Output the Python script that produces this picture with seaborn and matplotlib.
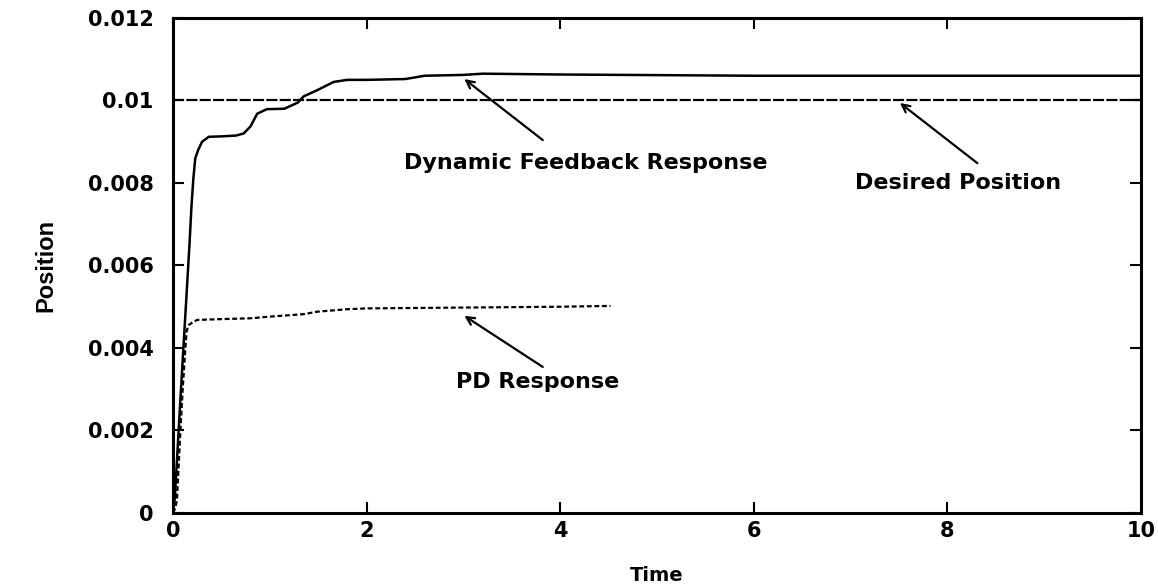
import matplotlib
matplotlib.use("Agg")
import matplotlib.pyplot as plt
import seaborn as sns
import pandas as pd

# Dynamic feedback controller response
dyn_time = [0.0, 0.02, 0.07, 0.14, 0.17, 0.19, 0.21, 0.23, 0.26, 0.30, 0.37, 0.50,
            0.65, 0.73, 0.80, 0.87, 0.97, 1.15, 1.29, 1.35, 1.49, 1.66, 1.80, 2.00,
            2.40, 2.60, 3.00, 3.20, 4.00, 6.00, 8.00, 10.00]
dyn_pos = [0.0, 0.0004, 0.0025, 0.0053, 0.0065, 0.0074, 0.0081, 0.0086, 0.0088, 0.0090,
           0.00912, 0.00913, 0.00915, 0.0092, 0.00937, 0.00968, 0.00979, 0.0098, 0.00995,
           0.0101, 0.01025, 0.01045, 0.0105, 0.0105, 0.01052, 0.0106, 0.01062, 0.01065,
           0.01063, 0.0106, 0.0106, 0.0106]

# PD controller response
pd_time = [0.0, 0.02, 0.04, 0.07, 0.10, 0.125, 0.14, 0.16, 0.20, 0.25, 0.50, 0.80,
           1.00, 1.35, 1.49, 1.80, 2.01, 3.00, 4.00, 4.52]
pd_pos = [0.0, 0.0001, 0.0003, 0.0017, 0.0030, 0.0039, 0.0044, 0.00455, 0.00462, 0.00468,
          0.0047, 0.00472, 0.00476, 0.00482, 0.00488, 0.00494, 0.00496, 0.00498, 0.0050,
          0.00502]

# Set point
desired_time = [0.0, 10.0]
desired_pos = [0.01, 0.01]

x_ticks = [0, 2, 4, 6, 8, 10]
y_ticks = [0, 0.002, 0.004, 0.006, 0.008, 0.01, 0.012]
y_tick_labels = ["0", "0.002", "0.004", "0.006", "0.008", "0.01", "0.012"]

sns.set_style("ticks")
plt.rcParams["font.family"] = ["DejaVu Sans"]
plt.rcParams["font.weight"] = "bold"
for key in ["text.color", "axes.labelcolor", "axes.edgecolor", "xtick.color", "ytick.color"]:
    plt.rcParams[key] = "black"

fig = plt.figure(figsize=(11.58, 5.86), dpi=100)
ax = fig.add_axes([0.1494, 0.1246, 0.8359, 0.8447])

dyn_df = pd.DataFrame({"Time": dyn_time, "Position": dyn_pos})
pd_df = pd.DataFrame({"Time": pd_time, "Position": pd_pos})
des_df = pd.DataFrame({"Time": desired_time, "Position": desired_pos})

sns.lineplot(data=dyn_df, x="Time", y="Position", ax=ax, color="black", lw=1.8,
             sort=False, estimator=None)
sns.lineplot(data=pd_df, x="Time", y="Position", ax=ax, color="black", lw=1.6,
             sort=False, estimator=None, linestyle=(0, (2.2, 1.2)))
sns.lineplot(data=des_df, x="Time", y="Position", ax=ax, color="black", lw=1.6,
             sort=False, estimator=None, linestyle=(0, (5, 1)))

ax.set_xlim(0, 10)
ax.set_ylim(0, 0.012)
ax.set_xticks(x_ticks)
ax.set_xticklabels([str(v) for v in x_ticks])
ax.set_yticks(y_ticks)
ax.set_yticklabels(y_tick_labels)
ax.tick_params(axis="both", direction="in", length=8, width=1.5, labelsize=15,
               top=True, right=True, colors="black")
ax.tick_params(axis="x", pad=6)
ax.tick_params(axis="y", pad=14)
for lbl in ax.get_xticklabels() + ax.get_yticklabels():
    lbl.set_fontweight("bold")
for s in ax.spines.values():
    s.set_linewidth(2.2)
    s.set_color("black")
    s.set_visible(True)

ax.set_xlabel("Time", fontsize=14, fontweight="bold", labelpad=18)
ax.set_ylabel("Position", fontsize=17, fontweight="bold", labelpad=22,
              family=["Liberation Sans", "DejaVu Sans"])

arrow = dict(arrowstyle="->", color="black", lw=1.6,
             mutation_scale=14, shrinkA=0, shrinkB=0)
ax.annotate("", xy=(3.01, 0.01052), xytext=(3.82, 0.00904), arrowprops=arrow)
ax.annotate("", xy=(7.51, 0.00994), xytext=(8.31, 0.00848), arrowprops=arrow)
ax.annotate("", xy=(3.01, 0.00478), xytext=(3.82, 0.00354), arrowprops=arrow)

ax.text(4.26, 0.00848, "Dynamic Feedback Response", ha="center", va="center",
        fontsize=16, fontweight="bold")
ax.text(8.11, 0.0080, "Desired Position", ha="center", va="center",
        fontsize=16, fontweight="bold")
ax.text(3.77, 0.00318, "PD Response", ha="center", va="center",
        fontsize=16, fontweight="bold")

fig.savefig("out.png", dpi=100)
